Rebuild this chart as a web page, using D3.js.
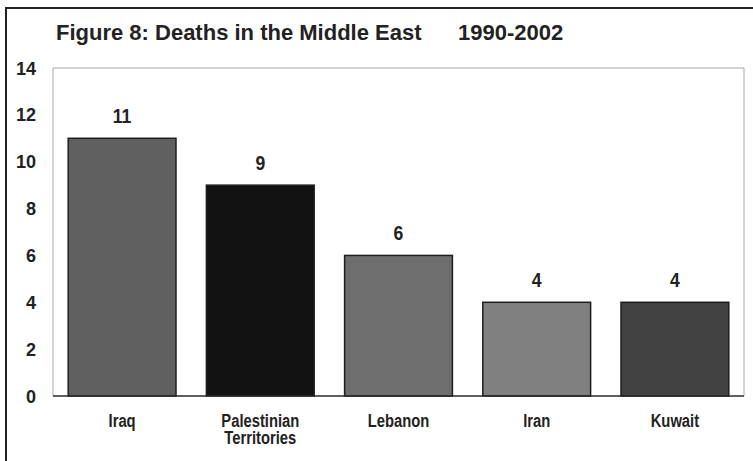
<!DOCTYPE html>
<html>
<head>
  <meta charset="utf-8">
  <title>Figure 8</title>
  <script src="https://d3js.org/d3.v7.min.js"></script>
  <style>
    body { margin: 0; background: #fff; }
    text { font-family: "Liberation Sans", Arial, sans-serif; font-weight: bold; fill: #222; }
  </style>
</head>
<body>
<div id="chart"></div>
<script>
  // data
  var countries = ["Iraq", "Palestinian Territories", "Lebanon", "Iran", "Kuwait"];
  var deaths = [11, 9, 6, 4, 4];
  var barColors = ["#606060", "#121212", "#6e6e6e", "#808080", "#414141"];
  var yTicks = [0, 2, 4, 6, 8, 10, 12, 14];

  var W = 753, H = 461;
  var plot = { left: 53, right: 744, top: 68, bottom: 396 };

  // squeeze text horizontally, the original uses a narrow face
  function narrow(sel, k) {
    sel.each(function () {
      var len = this.getComputedTextLength();
      d3.select(this).attr("textLength", len * k).attr("lengthAdjust", "spacingAndGlyphs");
    });
  }

  var svg = d3.select("#chart").append("svg")
    .attr("width", W).attr("height", H);

  // outer frame (top and left edges only visible)
  svg.append("path")
    .attr("d", "M6," + H + "V8H" + W)
    .attr("fill", "none").attr("stroke", "#222").attr("stroke-width", 2);

  var x = d3.scaleBand()
    .domain(countries)
    .range([plot.left, plot.right])
    .paddingInner(0.22)
    .paddingOuter(0.11);

  var y = d3.scaleLinear()
    .domain([0, 14])
    .range([plot.bottom, plot.top]);

  // plot area border
  svg.append("path")
    .attr("d", "M" + plot.left + "," + plot.bottom + "V" + plot.top + "H" + plot.right + "V" + plot.bottom)
    .attr("fill", "none").attr("stroke", "#a8a8a8").attr("stroke-width", 1);

  // title
  svg.append("text").attr("x", 56).attr("y", 40).style("font-size", "22px")
    .text("Figure 8: Deaths in the Middle East");
  svg.append("text").attr("x", 458).attr("y", 40).style("font-size", "22px")
    .text("1990-2002");

  // bars
  svg.selectAll(".bar")
    .data(deaths)
    .enter().append("rect")
    .attr("class", "bar")
    .attr("x", function (d, i) { return x(countries[i]); })
    .attr("y", function (d) { return y(d); })
    .attr("width", x.bandwidth())
    .attr("height", function (d) { return y(0) - y(d); })
    .attr("fill", function (d, i) { return barColors[i]; })
    .attr("stroke", "#1e1e1e")
    .attr("stroke-width", 1.5);

  // value labels
  var vals = svg.selectAll(".val")
    .data(deaths)
    .enter().append("text")
    .attr("class", "val")
    .attr("text-anchor", "middle")
    .attr("x", function (d, i) { return x(countries[i]) + x.bandwidth() / 2; })
    .attr("y", function (d) { return y(d) - 15.5; })
    .style("font-size", "20px")
    .text(function (d) { return d; });
  narrow(vals, 0.88);

  // y axis labels
  var yAxis = svg.append("g")
    .attr("transform", "translate(" + plot.left + ",0)")
    .call(d3.axisLeft(y).tickValues(yTicks).tickSize(0).tickPadding(17));
  yAxis.select(".domain").remove();
  yAxis.selectAll("text").style("font-size", "19px")
    .style("font-family", "'Liberation Sans', Arial, sans-serif").attr("fill", "#222");
  narrow(yAxis.selectAll("text"), 0.95);

  // x axis
  var xAxis = svg.append("g")
    .attr("transform", "translate(0," + plot.bottom + ")")
    .call(d3.axisBottom(x).tickSize(0).tickPadding(0));
  xAxis.select(".domain").attr("stroke", "#2a2a2a").attr("stroke-width", 1.5)
    .attr("d", "M" + plot.left + ",0H" + plot.right);
  xAxis.selectAll(".tick text").each(function (d) {
    var t = d3.select(this);
    var words = d.split(" ");
    t.text(null).attr("y", 0).attr("dy", null).attr("fill", "#222")
      .style("font-size", "18px")
      .style("font-family", "'Liberation Sans', Arial, sans-serif");
    words.forEach(function (w, k) {
      t.append("tspan").attr("x", 0).attr("y", 31 + k * 16.7).text(w);
    });
  });
  narrow(xAxis.selectAll(".tick tspan"), 0.82);
</script>
</body>
</html>
